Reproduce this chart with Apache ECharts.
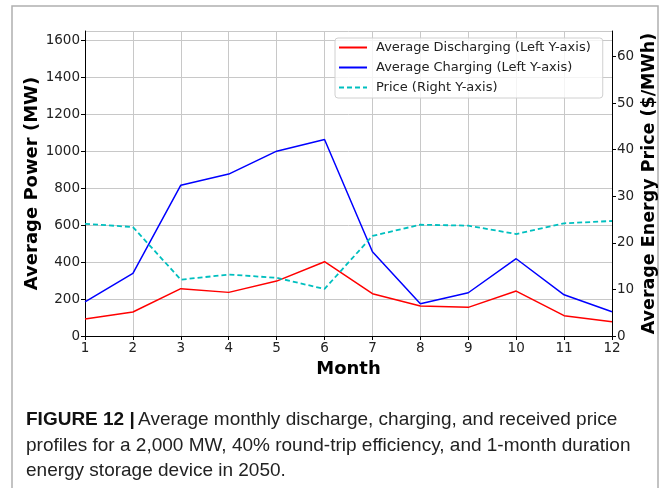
<!DOCTYPE html>
<html>
<head>
<meta charset="utf-8">
<script src="https://cdn.jsdelivr.net/npm/echarts@6/dist/echarts.min.js"></script>
<style>
html,body{margin:0;padding:0;background:#fff;}
#chart{width:664px;height:488px;}
</style>
</head>
<body>
<div id="chart"></div>
<script>
var months = [1,2,3,4,5,6,7,8,9,10,11,12];
var discharging = [92,130,256,236,297,402,229,162,155,243,110,77];
var charging = [185,339,816,876,1000,1063,456,175,234,418,223,131];
var price = [24.1,23.4,12.1,13.2,12.5,10.1,21.5,23.9,23.7,21.9,24.2,24.7];
var seriesNames = ['Average Discharging (Left Y-axis)','Average Charging (Left Y-axis)','Price (Right Y-axis)'];
var captionLines = [
  ['FIGURE 12 ', 'Average monthly discharge, charging, and received price'],
  ['', 'profiles for a 2,000 MW, 40% round-trip efficiency, and 1-month duration'],
  ['', 'energy storage device in 2050.']
];

function pairs(vals){ return months.map(function(m,i){ return [m, vals[i]]; }); }

var chart = echarts.init(document.getElementById('chart'), null, {renderer:'canvas'});
var font = 'DejaVu Sans';
var capFont = '"Liberation Sans", Arial, sans-serif';
var solidIcon = 'path://M0,0h28v2h-28z';
var dashIcon = 'path://M0,0h5v2h-5z M8,0h5v2h-5z M16,0h5v2h-5z M24,0h4v2h-4z';

var graphics = [{
  type:'rect', shape:{x:12, y:6, width:646, height:500},
  style:{fill:'none', stroke:'#b0b0b0', lineWidth:1.5}, silent:true, z:-1
}];
captionLines.forEach(function(l, i){
  graphics.push({
    type:'text', left:26, top:410 + i*25.8,
    style:{
      text: (l[0] ? '{b|' + l[0] + '}{bar||} ' : '') + '{n|' + l[1] + '}',
      rich:{
        b:{fontFamily:capFont, fontWeight:'bold', fontSize:19, fill:'#111'},
        bar:{fontFamily:capFont, fontWeight:'bold', fontSize:19, fill:'#111'},
        n:{fontFamily:capFont, fontSize:19, fill:'#222'}
      }
    }
  });
});

function plain(v){ return String(v); }

var option = {
  animation:false,
  backgroundColor:'#fff',
  grid:{left:85, top:31, right:52, bottom:152, containLabel:false, outerBoundsMode:'none'},
  legend:{
    orient:'vertical', left:335, top:38,
    width:266,
    data:[
      {name:seriesNames[0], icon:solidIcon, itemStyle:{color:'#ff0000'}},
      {name:seriesNames[1], icon:solidIcon, itemStyle:{color:'#0000ff'}},
      {name:seriesNames[2], icon:dashIcon, itemStyle:{color:'#00bfbf'}}
    ],
    itemWidth:28, itemHeight:2, itemGap:7,
    padding:[3,12,4,4],
    borderColor:'#d0d0d0', borderWidth:1, borderRadius:3,
    backgroundColor:'rgba(255,255,255,0.8)',
    textStyle:{fontFamily:font, fontSize:13, color:'#222', padding:[0,0,0,4]}
  },
  xAxis:[{
    type:'value', min:1, max:12, interval:1,
    name:'Month', nameLocation:'middle', nameGap:23,
    nameTextStyle:{fontFamily:font, fontWeight:'bold', fontSize:18, color:'#000'},
    axisLine:{show:true, lineStyle:{color:'#000', width:1}},
    axisTick:{show:true, length:4, lineStyle:{color:'#000'}},
    axisLabel:{fontFamily:font, fontSize:13.5, color:'#222', margin:5, formatter:plain},
    splitLine:{show:true, lineStyle:{color:'#c8c8c8', width:1}}
  },{
    type:'value', min:1, max:12, interval:1, position:'top',
    axisLine:{show:true, lineStyle:{color:'#000', width:1}},
    axisTick:{show:false}, axisLabel:{show:false}, splitLine:{show:false}
  }],
  yAxis:[{
    type:'value', min:0, max:1650, interval:200,
    name:'Average Power (MW)', nameLocation:'middle', nameRotate:90, nameGap:44,
    nameMoveOverlap:false,
    nameTextStyle:{fontFamily:font, fontWeight:'bold', fontSize:18, color:'#000'},
    axisLine:{show:true, lineStyle:{color:'#000', width:1}},
    axisTick:{show:true, length:4, lineStyle:{color:'#000'}},
    axisLabel:{fontFamily:font, fontSize:13.5, color:'#222', margin:5, showMaxLabel:false, formatter:plain},
    splitLine:{show:true, lineStyle:{color:'#c8c8c8', width:1}}
  },{
    type:'value', min:0, max:65.5, interval:10, position:'right',
    name:'Average Energy Price ($/MWh)', nameLocation:'middle', nameRotate:90, nameGap:28,
    nameMoveOverlap:false,
    nameTextStyle:{fontFamily:font, fontWeight:'bold', fontSize:17.5, color:'#000'},
    axisLine:{show:true, lineStyle:{color:'#000', width:1}},
    axisTick:{show:true, length:4, lineStyle:{color:'#000'}},
    axisLabel:{fontFamily:font, fontSize:13.5, color:'#222', margin:5, showMaxLabel:false, formatter:plain},
    splitLine:{show:false}
  }],
  series:[{
    name:seriesNames[0], type:'line', yAxisIndex:0, data:pairs(discharging),
    symbol:'none', lineStyle:{color:'#ff0000', width:1.5}, itemStyle:{color:'#ff0000'}
  },{
    name:seriesNames[1], type:'line', yAxisIndex:0, data:pairs(charging),
    symbol:'none', lineStyle:{color:'#0000ff', width:1.5}, itemStyle:{color:'#0000ff'}
  },{
    name:seriesNames[2], type:'line', yAxisIndex:1, data:pairs(price),
    symbol:'none', lineStyle:{color:'#00bfbf', width:1.8, type:[5,3]}, itemStyle:{color:'#00bfbf'}
  }],
  graphic:graphics
};
chart.setOption(option);
</script>
</body>
</html>
